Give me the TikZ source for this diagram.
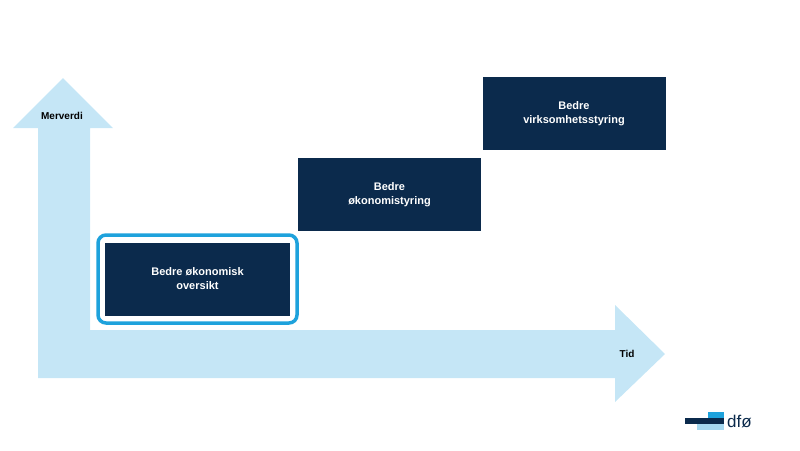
\documentclass[tikz,border=0pt]{standalone}
\usepackage{fontspec}
\setmainfont{Liberation Sans}
\definecolor{navy}{HTML}{0B2A4C}
\definecolor{skyblue}{HTML}{C5E6F6}
\definecolor{cyanline}{HTML}{1EA2DC}
\tikzset{
  step box/.style = {fill=navy, text=white, font=\bfseries\fontsize{11}{14}\selectfont,
                     align=center, inner sep=0pt, minimum width=#1, minimum height=73pt},
  step box/.default = 183pt,
  axis label/.style = {font=\bfseries\fontsize{10}{12}\selectfont}
}
\begin{document}
\begin{tikzpicture}[x=1pt, y=-1pt]
	\useasboundingbox (0,0) rectangle (800,450);
	
	% Axes
	\fill[skyblue] (38,128) -- (13,128) -- (63,78) -- (113,128) -- (90,128)
	  -- (90,330) -- (615,330) -- (615,305) -- (665,354) -- (615,402)
	  -- (615,378) -- (38,378) -- cycle;
	\node[axis label] (merverdi) at (62,116) {Merverdi};
	\node[axis label] (tid) at (627,354) {Tid};
	
	% Steps
	\node[step box=185pt] (oversikt) at (197.5,279) {Bedre økonomisk\\oversikt};
	\draw[cyanline, line width=3.5pt, rounded corners=8pt] (98,235) rectangle (297,323);
	\node[step box] (styring) at (389.5,194.5) {Bedre\\økonomistyring};
	\node[step box] (virksomhet) at (574,113.5) {Bedre\\virksomhetsstyring};
	
	% Logo
	\fill[cyanline] (708,412) rectangle (724,418);
	\fill[navy] (685,418) rectangle (724,423.5);
	\fill[skyblue!80!cyanline] (697,424) rectangle (724,430);
	\node[text=navy, font=\fontsize{17}{17}\selectfont, anchor=west, inner sep=0pt] (dfo) at (727,421) {dfø};
\end{tikzpicture}
\end{document}
